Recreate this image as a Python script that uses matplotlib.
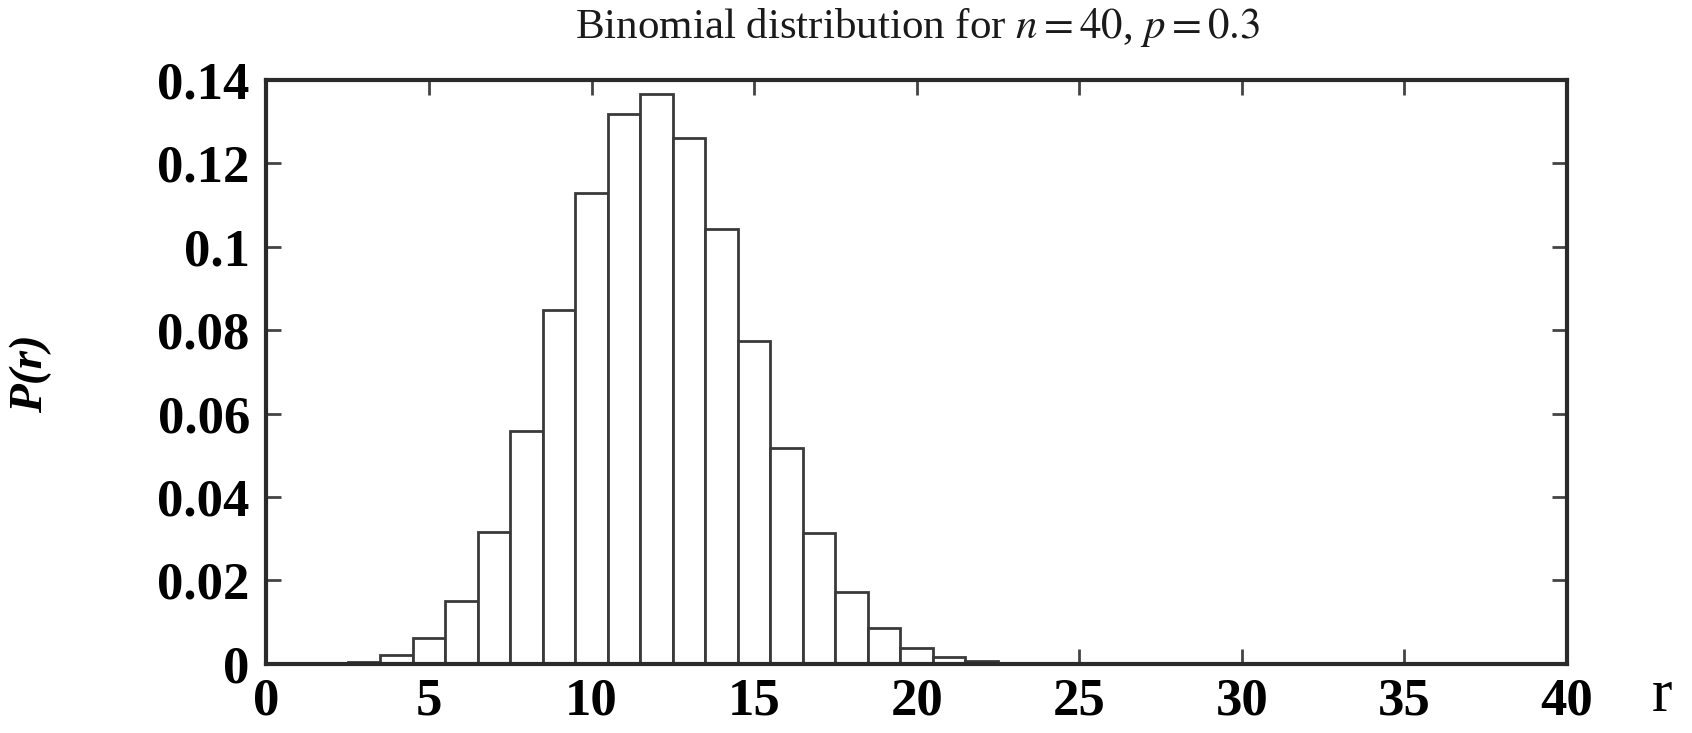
import numpy as np
import matplotlib
matplotlib.use("Agg")
import matplotlib.pyplot as plt

# values (r = 0..40)
r_vals = np.arange(0, 41)
p_vals = [0.0, 0.0, 0.0001, 0.0005, 0.0020, 0.0061, 0.0151, 0.0315, 0.0557,
          0.0849, 0.1128, 0.1319, 0.1366, 0.1261, 0.1042, 0.0774, 0.0518,
          0.0314, 0.0172, 0.0085, 0.0038, 0.0016, 0.0006, 0.0002, 0.0001,
          0.0, 0.0, 0.0, 0.0, 0.0, 0.0, 0.0, 0.0, 0.0, 0.0, 0.0, 0.0, 0.0,
          0.0, 0.0, 0.0]
x_ticks = [0, 5, 10, 15, 20, 25, 30, 35, 40]
y_ticks = [0, 0.02, 0.04, 0.06, 0.08, 0.1, 0.12, 0.14]
y_labels = ['0', '0.02', '0.04', '0.06', '0.08', '0.1', '0.12', '0.14']

plt.rcParams['font.family'] = ['Liberation Serif', 'DejaVu Serif']
plt.rcParams['mathtext.fontset'] = 'stix'

fig = plt.figure(figsize=(16.92, 7.33), dpi=100)
ax = fig.add_axes([0.1575, 0.0945, 0.7685, 0.7965])

ax.bar(r_vals, p_vals, width=1.0, color='white', edgecolor='#3a3a3a',
       linewidth=2.0, zorder=2)

ax.set_xlim(0, 40)
ax.set_ylim(0, 0.14)
ax.set_xticks(x_ticks)
ax.set_xticklabels([str(t) for t in x_ticks])
ax.set_yticks(y_ticks)
ax.set_yticklabels(y_labels)
ax.tick_params(direction='in', length=11, width=2, color='#444444',
               top=True, right=True, labelsize=38)
ax.tick_params(axis='y', pad=12)
ax.tick_params(axis='x', pad=10)
for lab in ax.get_xticklabels() + ax.get_yticklabels():
    lab.set_fontweight('bold')
for s in ax.spines.values():
    s.set_linewidth(3)
    s.set_color('#2a2a2a')
    s.set_zorder(3)

fig.text(0.542, 0.962, r'Binomial distribution for $n = 40$, $p = 0.3$',
         ha='center', va='center', fontsize=31, color='#1a1a1a')
fig.text(0.018, 0.49, 'P(r)', rotation=90, fontstyle='italic',
         fontweight='bold', ha='center', va='center', fontsize=34)
fig.text(0.982, 0.012, 'r', ha='center', va='bottom', fontsize=44)

fig.savefig('out.png', dpi=100)
